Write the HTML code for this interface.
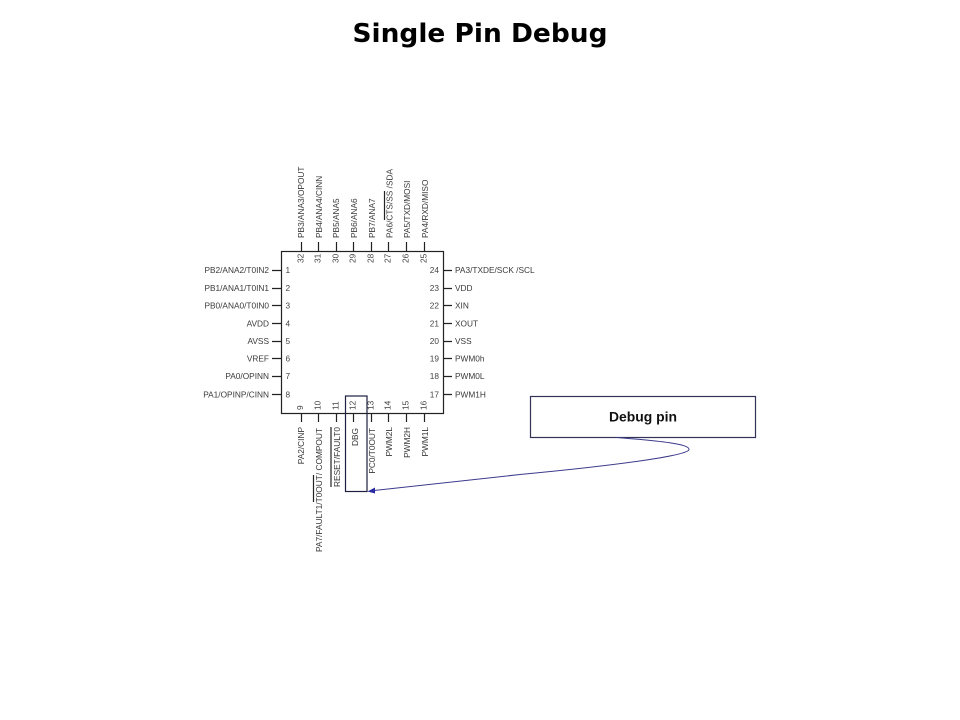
<!DOCTYPE html>
<html>
<head>
<meta charset="utf-8">
<title>Single Pin Debug</title>
<style>
html,body{margin:0;padding:0;background:#fff;width:960px;height:720px;overflow:hidden}
svg{display:block}
.t{font-family:"Liberation Sans",sans-serif;font-size:8.3px;fill:#3a3a3a}
.n{font-family:"Liberation Sans",sans-serif;font-size:8.3px;fill:#444}
.l{stroke:#222;stroke-width:1.2;fill:none}
</style>
</head>
<body>
<svg width="960" height="720" viewBox="0 0 960 720" xmlns="http://www.w3.org/2000/svg">
<text x="480" y="42" text-anchor="middle" textLength="255" lengthAdjust="spacingAndGlyphs" font-family="'DejaVu Sans',sans-serif" font-weight="bold" font-size="26" fill="#000">Single Pin Debug</text>

<!-- chip body -->
<rect x="281.5" y="251.5" width="162" height="162" class="l"/>

<!-- left ticks -->
<path class="l" d="M272 270.5H281M272 288.5H281M272 305.5H281M272 323.5H281M272 341.5H281M272 358.5H281M272 376.5H281M272 394.5H281"/>
<!-- right ticks -->
<path class="l" d="M443 270.5H452M443 288.5H452M443 305.5H452M443 323.5H452M443 341.5H452M443 358.5H452M443 376.5H452M443 394.5H452"/>
<!-- top ticks -->
<path class="l" d="M301.5 242V251M318.5 242V251M336.5 242V251M353.5 242V251M371.5 242V251M388.5 242V251M406.5 242V251M424.5 242V251"/>
<!-- bottom ticks -->
<path class="l" d="M301.5 413V422M318.5 413V422M336.5 413V422M353.5 413V422M371.5 413V422M388.5 413V422M406.5 413V422M424.5 413V422"/>

<!-- left labels -->
<g class="t" text-anchor="end">
<text x="269" y="273">PB2/ANA2/T0IN2</text>
<text x="269" y="291">PB1/ANA1/T0IN1</text>
<text x="269" y="308.5">PB0/ANA0/T0IN0</text>
<text x="269" y="326.5">AVDD</text>
<text x="269" y="344">AVSS</text>
<text x="269" y="361.500">VREF</text>
<text x="269" y="379">PA0/OPINN</text>
<text x="269" y="397.500">PA1/OPINP/CINN</text>
</g>
<g class="n">
<text x="285.500" y="273">1</text>
<text x="285.500" y="291">2</text>
<text x="285.500" y="308.500">3</text>
<text x="285.500" y="326.500">4</text>
<text x="285.500" y="344">5</text>
<text x="285.500" y="361.500">6</text>
<text x="285.500" y="379">7</text>
<text x="285.500" y="397.500">8</text>
</g>

<!-- right labels -->
<g class="t">
<text x="455" y="273">PA3/TXDE/SCK /SCL</text>
<text x="455" y="291">VDD</text>
<text x="455" y="308.500">XIN</text>
<text x="455" y="326.500">XOUT</text>
<text x="455" y="344">VSS</text>
<text x="455" y="361.500">PWM0h</text>
<text x="455" y="379">PWM0L</text>
<text x="455" y="397.500">PWM1H</text>
</g>
<g class="n" text-anchor="end">
<text x="439" y="273">24</text>
<text x="439" y="291">23</text>
<text x="439" y="308.500">22</text>
<text x="439" y="326.500">21</text>
<text x="439" y="344">20</text>
<text x="439" y="361.500">19</text>
<text x="439" y="379">18</text>
<text x="439" y="397.500">17</text>
</g>

<!-- top labels -->
<g class="t">
<text transform="translate(304 238) rotate(-90)">PB3/ANA3/OPOUT</text>
<text transform="translate(322 238) rotate(-90)">PB4/ANA4/CINN</text>
<text transform="translate(339 238) rotate(-90)">PB5/ANA5</text>
<text transform="translate(357 238) rotate(-90)">PB6/ANA6</text>
<text transform="translate(375 238) rotate(-90)">PB7/ANA7</text>
<text transform="translate(392.500 238) rotate(-90)">PA6/CTS/SS /SDA</text>
<text transform="translate(410 238) rotate(-90)">PA5/TXD/MOSI</text>
<text transform="translate(428 238) rotate(-90)">PA4/RXD/MISO</text>
</g>
<g class="n">
<text transform="translate(303.500 263) rotate(-90)">32</text>
<text transform="translate(320.500 263) rotate(-90)">31</text>
<text transform="translate(338.500 263) rotate(-90)">30</text>
<text transform="translate(355.500 263) rotate(-90)">29</text>
<text transform="translate(373.500 263) rotate(-90)">28</text>
<text transform="translate(390.500 263) rotate(-90)">27</text>
<text transform="translate(408.500 263) rotate(-90)">26</text>
<text transform="translate(426.500 263) rotate(-90)">25</text>
</g>
<path class="l" d="M384.500 191V220"/>

<!-- bottom labels -->
<g class="t" text-anchor="end">
<text transform="translate(304 427) rotate(-90)">PA2/CINP</text>
<text transform="translate(322 428) rotate(-90)" textLength="124" lengthAdjust="spacingAndGlyphs">PA7/FAULT1/T0OUT/ COMPOUT</text>
<text transform="translate(340 427) rotate(-90)" textLength="60" lengthAdjust="spacingAndGlyphs">RESET/FAULT0</text>
<text transform="translate(358 428) rotate(-90)">DBG</text>
<text transform="translate(375 428) rotate(-90)">PC0/T0OUT</text>
<text transform="translate(392 427) rotate(-90)">PWM2L</text>
<text transform="translate(410 427) rotate(-90)">PWM2H</text>
<text transform="translate(428 427) rotate(-90)">PWM1L</text>
</g>
<g class="n">
<text transform="translate(303 410) rotate(-90)">9</text>
<text transform="translate(320.500 410) rotate(-90)">10</text>
<text transform="translate(338.500 410) rotate(-90)">11</text>
<text transform="translate(355.500 410) rotate(-90)">12</text>
<text transform="translate(373.500 410) rotate(-90)">13</text>
<text transform="translate(390.500 410) rotate(-90)">14</text>
<text transform="translate(408.500 410) rotate(-90)">15</text>
<text transform="translate(426.500 410) rotate(-90)">16</text>
</g>
<path class="l" d="M313.500 475V502M331 427V487"/>

<!-- DBG highlight -->
<rect x="345.500" y="396" width="21.500" height="95.500" fill="none" stroke="#1f1f3f" stroke-width="1.200"/>

<!-- callout -->
<rect x="530.500" y="396.500" width="225" height="41" fill="#fff" stroke="#333355" stroke-width="1.200"/>
<text x="643" y="421.500" text-anchor="middle" textLength="68" lengthAdjust="spacingAndGlyphs" font-family="'Liberation Sans',sans-serif" font-weight="bold" font-size="13.500" fill="#111">Debug pin</text>

<!-- connector -->
<path d="M617 437.500C660 441 690 444 689 449.500C688 456 610 466 520 474.500L374 490.500" fill="none" stroke="#3a3a8c" stroke-width="1"/>
<polygon points="367.500,491.500 375,487.500 375,493.500" fill="#2a2aa0"/>
</svg>
</body>
</html>
